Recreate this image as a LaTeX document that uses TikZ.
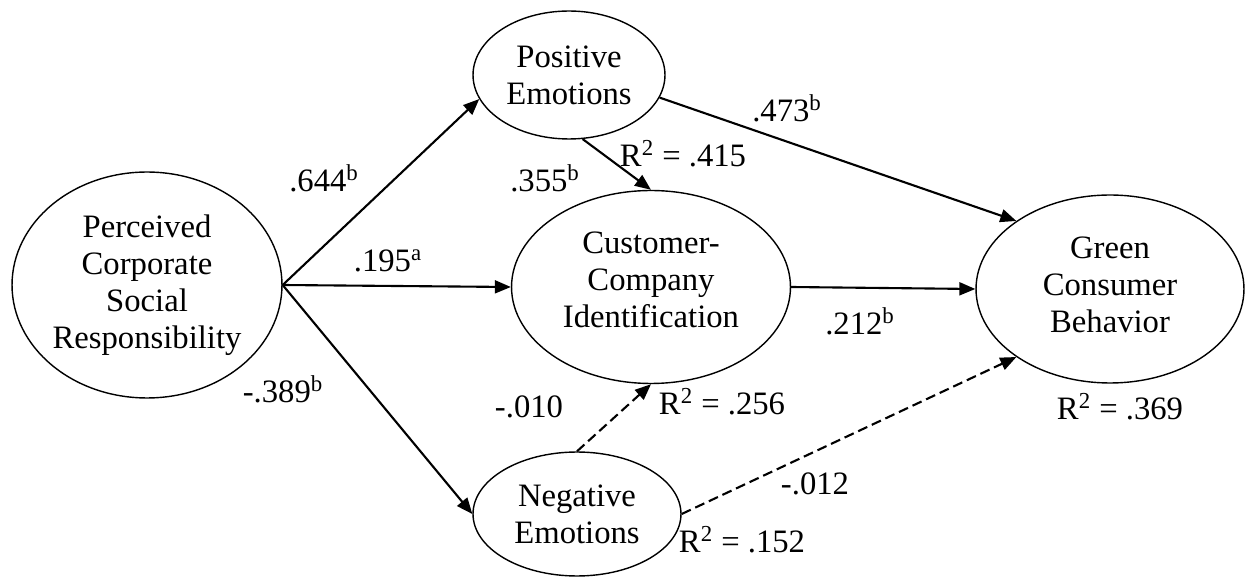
\documentclass[tikz,border=0pt]{standalone}
\usepackage{fontspec}
\setmainfont{Liberation Serif}
\usetikzlibrary{arrows.meta,shapes.geometric}

\begin{document}
\begin{tikzpicture}[x=0.02cm,y=-0.02cm,
    construct/.style={draw,ellipse,line width=0.8pt,inner sep=0pt,align=center,
        font=\fontsize{18.6}{21}\selectfont},
    effect/.style={line width=1.2pt,-{Triangle[length=0.32cm,width=0.26cm]}},
    nonsig/.style={effect,dash pattern=on 0.2cm off 0.1cm},
    coef/.style={anchor=base,inner sep=0pt,font=\fontsize{18.6}{21}\selectfont}]
            \useasboundingbox (0,0) rectangle (1245,577);

            \node[construct,minimum width=5.4cm,minimum height=4.52cm] (pcsr) at (147,285)
                {Perceived\\Corporate\\Social\\Responsibility};
            \node[construct,minimum width=3.84cm,minimum height=2.56cm] (pos) at (569,75)
                {Positive\\Emotions};
            \node[construct,minimum width=5.58cm,minimum height=3.86cm,text depth=0.3cm] (cci) at (651,287)
                {Customer-\\Company\\Identification};
            \node[construct,minimum width=4.16cm,minimum height=2.48cm] (neg) at (577,514)
                {Negative\\Emotions};
            \node[construct,minimum width=5.36cm,minimum height=3.76cm,text depth=0.18cm] (gcb) at (1110,289)
                {Green\\Consumer\\Behavior};

            \draw[effect] (pcsr.east)--(pos.195);
            \draw[effect] (pcsr.east)--(cci.west);
            \draw[effect] (pcsr.east)--(neg.west);
            \draw[effect] (pos.-78)--(cci.north);
            \draw[effect] (pos.-14)--(gcb.144);
            \draw[effect] (cci.east)--(gcb.west);
            \draw[nonsig] (neg.north)--(cci.south);
            \draw[nonsig] (neg.east)--(gcb.216);

            \node[coef] (c644) at (324,192) {.644\textsuperscript{b}};
            \node[coef] (c195) at (388,272) {.195\textsuperscript{a}};
            \node[coef] (c389) at (283,403) {-.389\textsuperscript{b}};
            \node[coef] (c355) at (545,192) {.355\textsuperscript{b}};
            \node[coef] (c473) at (787,122) {.473\textsuperscript{b}};
            \node[coef] (c212) at (860,335) {.212\textsuperscript{b}};
            \node[coef] (c010) at (529,418) {-.010};
            \node[coef] (c012) at (815,495) {-.012};

            \foreach \x/\y/\v/\n in {683/167/415/pos,722/415/256/cci,742/553/152/neg,1120/420/369/gcb}{
                \node[coef] (r2\n) at (\x,\y) {R\textsuperscript{2} = .\v};
            }
        \end{tikzpicture}
\end{document}
